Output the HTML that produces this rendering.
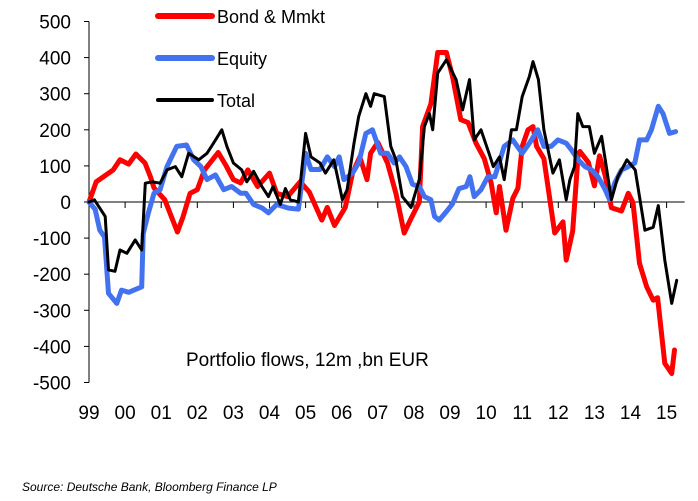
<!DOCTYPE html>
<html><head><meta charset="utf-8"><style>
body{margin:0;background:#fff;}
svg{display:block;font-family:"Liberation Sans",Arial,sans-serif;}
</style></head><body>
<svg id="chart" width="698" height="501">
<g id="axes"></g>
<g id="series"></g>
<g>
<line x1="158" y1="16" x2="212" y2="16" stroke="#ff0000" stroke-width="6" stroke-linecap="round"/>
<text x="217" y="23" font-size="18">Bond &amp; Mmkt</text>
<line x1="158" y1="58" x2="212" y2="58" stroke="#4372f0" stroke-width="6" stroke-linecap="round"/>
<text x="217" y="65" font-size="18">Equity</text>
<line x1="158" y1="100" x2="212" y2="100" stroke="#000" stroke-width="4" stroke-linecap="round"/>
<text x="217" y="107" font-size="18">Total</text>
</g>
<text x="186" y="366" font-size="19">Portfolio flows, 12m ,bn EUR</text>
<text x="22" y="491" font-size="12" font-style="italic">Source: Deutsche Bank, Bloomberg Finance LP</text>
</svg>
<script>
const yTicks=[500,400,300,200,100,0,-100,-200,-300,-400,-500];
const yTickLabels=["500","400","300","200","100","0","-100","-200","-300","-400","-500"];
const xYears=[1999,2000,2001,2002,2003,2004,2005,2006,2007,2008,2009,2010,2011,2012,2013,2014,2015];
const xTickLabels=["99","00","01","02","03","04","05","06","07","08","09","10","11","12","13","14","15"];

const bondT=[1999.0,1999.2,1999.67,1999.86,2000.1,2000.3,2000.55,2000.7,2000.8,2001.1,2001.45,2001.6,2001.8,2002.0,2002.2,2002.58,2002.8,2003.0,2003.2,2003.4,2003.67,2004.0,2004.2,2004.5,2004.85,2005.1,2005.45,2005.6,2005.8,2006.1,2006.3,2006.5,2006.7,2006.8,2007.0,2007.27,2007.5,2007.73,2007.9,2008.15,2008.24,2008.47,2008.66,2008.9,2009.07,2009.3,2009.5,2009.72,2009.95,2010.14,2010.28,2010.37,2010.55,2010.74,2010.88,2011.0,2011.16,2011.3,2011.4,2011.6,2011.9,2012.13,2012.22,2012.4,2012.55,2012.6,2012.83,2013.0,2013.14,2013.3,2013.47,2013.75,2013.94,2014.07,2014.25,2014.45,2014.63,2014.75,2014.95,2015.14,2015.22];
const bondV=[0,56,89,117,105,133,108,70,39,6,-83,-42,24,34,89,137,100,62,53,89,43,80,24,15,56,28,-50,-15,-65,-15,80,125,62,135,165,108,24,-86,-50,0,209,272,414,414,348,228,220,163,120,52,-30,43,-78,10,38,154,200,209,154,120,-86,-55,-161,-80,135,140,110,45,128,73,-16,-25,24,-2,-170,-235,-272,-265,-447,-475,-410];

const eqT=[1999.0,1999.17,1999.3,1999.43,1999.54,1999.77,1999.9,2000.1,2000.46,2000.5,2000.64,2000.8,2000.97,2001.16,2001.43,2001.7,2001.9,2002.1,2002.27,2002.5,2002.73,2002.95,2003.2,2003.35,2003.56,2003.8,2003.97,2004.2,2004.53,2004.8,2005.0,2005.15,2005.4,2005.6,2005.8,2005.93,2006.06,2006.3,2006.47,2006.67,2006.85,2007.08,2007.27,2007.45,2007.6,2007.78,2007.96,2008.15,2008.29,2008.47,2008.57,2008.7,2008.94,2009.07,2009.25,2009.45,2009.55,2009.67,2009.86,2010.05,2010.24,2010.5,2010.74,2011.0,2011.2,2011.43,2011.6,2011.8,2011.99,2012.22,2012.36,2012.55,2012.74,2012.92,2013.1,2013.3,2013.42,2013.56,2013.75,2013.94,2014.12,2014.25,2014.45,2014.58,2014.77,2014.9,2015.08,2015.25];
const eqV=[0,-20,-78,-97,-253,-281,-244,-250,-235,-88,-32,24,34,98,154,158,117,98,62,75,34,43,24,24,-7,-17,-30,-7,-17,-20,135,90,90,125,98,125,62,80,108,190,200,135,135,108,125,98,49,43,15,6,-40,-50,-22,-5,37,43,70,15,34,70,70,154,172,135,163,200,154,154,172,163,145,117,98,89,70,34,6,52,89,98,108,172,172,200,265,245,190,195];

const totT=[1999.0,1999.15,1999.45,1999.54,1999.72,1999.86,2000.05,2000.28,2000.46,2000.56,2000.75,2000.97,2001.16,2001.39,2001.57,2001.76,2002.04,2002.27,2002.45,2002.68,2002.82,2003.0,2003.23,2003.37,2003.56,2003.79,2003.97,2004.1,2004.3,2004.44,2004.58,2004.8,2005.0,2005.15,2005.4,2005.55,2005.78,2005.9,2006.02,2006.15,2006.34,2006.47,2006.67,2006.8,2006.9,2007.18,2007.36,2007.5,2007.68,2007.92,2008.15,2008.29,2008.43,2008.52,2008.66,2008.9,2009.17,2009.35,2009.54,2009.67,2009.86,2010.08,2010.2,2010.37,2010.5,2010.7,2010.84,2011.0,2011.2,2011.3,2011.45,2011.6,2011.85,2012.03,2012.22,2012.32,2012.45,2012.54,2012.68,2012.86,2013.0,2013.2,2013.33,2013.47,2013.65,2013.9,2014.13,2014.4,2014.63,2014.77,2014.95,2015.14,2015.28];
const totV=[0,6,-40,-188,-192,-133,-142,-105,-133,52,56,52,89,98,70,135,117,135,163,200,154,108,89,56,85,43,15,43,-7,37,6,0,190,125,108,80,117,62,6,34,163,237,300,265,300,292,154,117,15,-15,62,209,245,200,357,394,339,255,339,172,200,135,98,125,62,200,200,292,348,389,339,200,80,117,6,62,98,245,209,209,135,182,98,6,70,117,89,-78,-70,-10,-161,-281,-217];

const NS="http://www.w3.org/2000/svg";
const x0=89, pxPerYear=36.1, y0=202, pxPerUnit=0.361;
function xScale(t){return x0+(t-1999)*pxPerYear;}
function yScale(v){return y0-v*pxPerUnit;}
function mk(tag,attrs,parent){const e=document.createElementNS(NS,tag);for(const k in attrs)e.setAttribute(k,attrs[k]);parent.appendChild(e);return e;}

const axes=document.getElementById('axes');
let yl=mk('line',{x1:x0,y1:yScale(500),x2:x0,y2:yScale(-500),stroke:'#000','stroke-width':1},axes);


let xl=mk('line',{x1:x0,y1:y0,x2:xScale(2015.5),y2:y0,stroke:'#000','stroke-width':1},axes);


yTicks.forEach((v,i)=>{
  const tk=mk('line',{x1:x0-5,y1:yScale(v),x2:x0,y2:yScale(v),stroke:'#000'},axes);
  
  
  const t=mk('text',{x:71,y:yScale(v)+7,'font-size':19,'text-anchor':'end'},axes);
  t.textContent=yTickLabels[i];
  
  
});
xYears.forEach((yr,i)=>{
  const tk=mk('line',{x1:xScale(yr),y1:y0,x2:xScale(yr),y2:y0+6,stroke:'#000'},axes);
  
  
  const t=mk('text',{x:xScale(yr),y:419,'font-size':19,'text-anchor':'middle'},axes);
  t.textContent=xTickLabels[i];
  
  
});
const g=document.getElementById('series');
function draw(T,V,color,w,name){
  const d=T.map((t,i)=>(i?'L':'M')+xScale(t).toFixed(1)+','+yScale(V[i]).toFixed(1)).join('');
  const p=mk('path',{d:d,fill:'none',stroke:color,'stroke-width':w,'stroke-linejoin':'round','stroke-linecap':'round'},g);
  
  
}
draw(bondT,bondV,'#ff0000',5,'bond-mmkt-line');
draw(eqT,eqV,'#4372f0',5,'equity-line');
draw(totT,totV,'#000000',3,'total-line');
</script>
</body></html>
